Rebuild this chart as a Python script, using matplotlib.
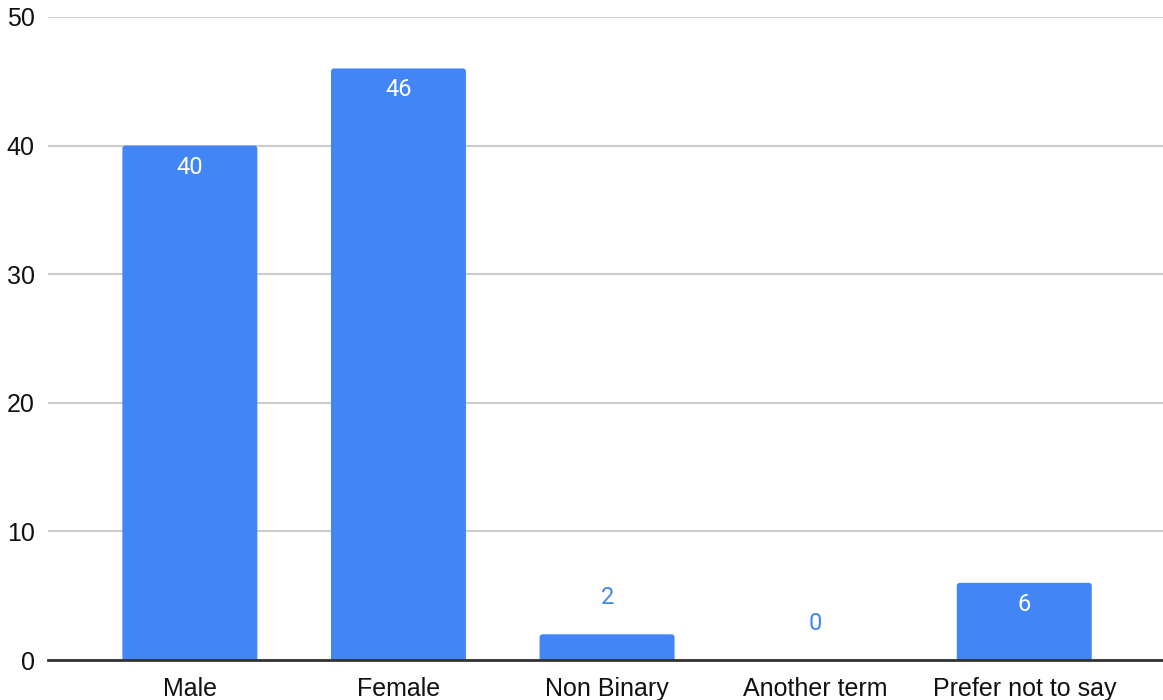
import matplotlib
matplotlib.use("Agg")
import matplotlib.pyplot as plt
from matplotlib.patches import FancyBboxPatch

categories = ["Male", "Female", "Non Binary", "Another term", "Prefer not to say"]
values = [40, 46, 2, 0, 6]
yticks = [0, 10, 20, 30, 40, 50]

BAR = "#4285F4"
W, H = 1163, 700
left_px, right_px, top_px, bottom_px = 48, 1163, 17, 660

fig = plt.figure(figsize=(W/100, H/100), dpi=100)
ax = fig.add_axes([left_px/W, 1-bottom_px/H, (right_px-left_px)/W, (bottom_px-top_px)/H])

x = list(range(len(categories)))
xlim = (-0.68, 4.665)
ylim = (0, 50)
ax.set_xlim(*xlim)
ax.set_ylim(*ylim)

bars = ax.bar(x, values, width=0.647, color=BAR, zorder=3)

# rounded top corners
px_per_x = (right_px - left_px) / (xlim[1] - xlim[0])
px_per_y = (bottom_px - top_px) / (ylim[1] - ylim[0])
r_px = 3.0
rx = r_px / px_per_x
ry = r_px / px_per_y
for p in bars.patches:
    bx, by, bw, bh = p.get_x(), p.get_y(), p.get_width(), p.get_height()
    p.set_visible(False)
    if bh <= 0:
        continue
    fp = FancyBboxPatch((bx, by - ry), bw, bh + ry,
                        boxstyle=f"round,pad=0,rounding_size={rx}",
                        mutation_aspect=ry/rx, facecolor=BAR, edgecolor="none",
                        zorder=3)
    ax.add_patch(fp)

ax.set_yticks(yticks)
ax.set_yticklabels([str(t) for t in yticks], fontsize=18, fontfamily="Liberation Sans", color="#111111")
ax.set_xticks(x)
ax.set_xticklabels(categories, fontsize=18, fontfamily="Liberation Sans", color="#111111")
ax.tick_params(axis="y", length=0, pad=9.5)
ax.tick_params(axis="x", length=0, pad=12.5)

ax.grid(axis="y", color="#cccccc", linewidth=1.5, zorder=0)
for s in ["top", "right", "left"]:
    ax.spines[s].set_visible(False)
ax.spines["bottom"].set_color("#333333")
ax.spines["bottom"].set_linewidth(2)
ax.spines["bottom"].set_zorder(5)

plot_h_px = bottom_px - top_px
for xi, v in zip(x, values):
    h_px = v / ylim[1] * plot_h_px
    if h_px > 45:
        ax.annotate(str(v), (xi, v), xytext=(0, -15.5), textcoords="offset points",
                    ha="center", va="center", color="white", fontsize=17,
                    fontfamily="Roboto", zorder=6)
    else:
        ax.annotate(str(v), (xi, v), xytext=(0, 26.5), textcoords="offset points",
                    ha="center", va="center", color=BAR, fontsize=17,
                    fontfamily="Roboto", zorder=6)

fig.savefig("out.png", dpi=100)
